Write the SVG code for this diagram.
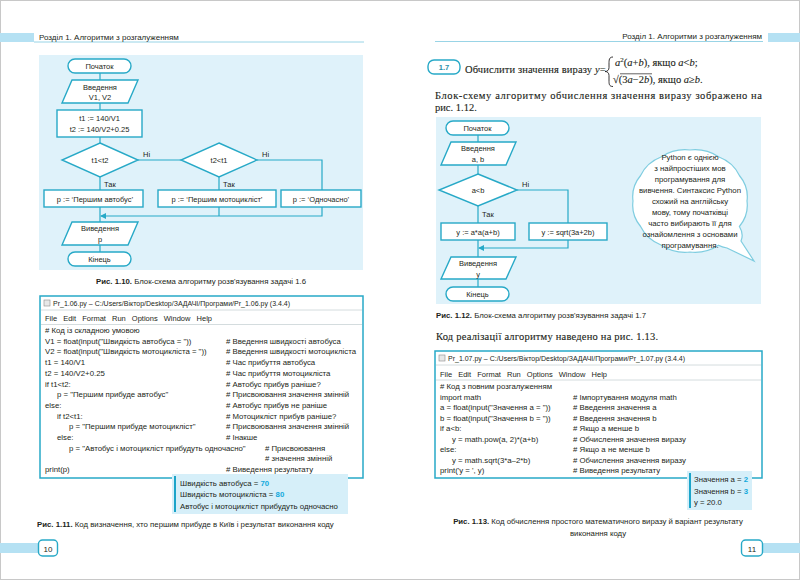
<svg xmlns="http://www.w3.org/2000/svg" width="800" height="582" viewBox="0 0 800 582">
<defs>
<style>
.t{font-family:"Liberation Sans",Arial,sans-serif;fill:#231f20}
.s{font-family:"Liberation Serif","Times New Roman",serif;fill:#231f20;stroke:#231f20;stroke-width:0.12}
.fc{font-size:7.5px;text-anchor:middle}
.lb{font-size:7.5px}
.cd{font-size:7.8px}
.cap{font-size:7.8px}
.b{font-weight:bold}
.sh{fill:#fff;stroke:#27a9c7;stroke-width:1.4}
.ln{fill:none;stroke:#27a9c7;stroke-width:1.2}
.bg{fill:#dff2fa}
.bar{fill:#b5e1f3}
.sep{stroke:#c9d3d6;stroke-width:0.8}
.win{fill:#fff;stroke:#27a9c7;stroke-width:1.5}
.out{fill:#d6eff9}
.obar{stroke:#1ba4c9;stroke-width:2}
.val{fill:#12a9dc;font-weight:bold}
.it{font-style:italic}
</style>
<marker id="ah" markerWidth="6" markerHeight="6" refX="5" refY="3" orient="auto" markerUnits="userSpaceOnUse">
<path d="M0,0 L6,3 L0,6 Z" fill="#27a9c7"/>
</marker>
</defs>
<rect x="0" y="0" width="800" height="582" fill="#fff"/>
<rect x="0.5" y="0.5" width="799" height="579" fill="none" stroke="#c8c8c8" stroke-width="1"/>

<!-- Headers -->
<g id="header-left">
<rect class="bar" x="0" y="33" width="34" height="9"/>
<line x1="34" y1="42" x2="364" y2="42" stroke="#7fc9e0" stroke-width="0.8"/>
<text class="t" x="39" y="40" font-size="8">Розділ 1. Алгоритми з розгалуженням</text>
</g>
<g id="header-right">
<rect class="bar" x="768" y="33" width="32" height="9"/>
<line x1="435" y1="41.5" x2="763" y2="41.5" stroke="#7fc9e0" stroke-width="0.8"/>
<text class="t" x="762" y="38.5" font-size="8" text-anchor="end">Розділ 1. Алгоритми з розгалуженням</text>
</g>

<!-- LEFT FLOWCHART -->
<rect class="bg" x="39" y="55" width="324" height="215"/>
<g id="connectors-left">
<path class="ln" d="M100,73 V80"/>
<path class="ln" d="M100,103 V110"/>
<path class="ln" d="M100,137 V143"/>
<path class="ln" d="M138,160 H181"/>
<path class="ln" d="M257,160 H322 V190"/>
<path class="ln" d="M100,177 V190"/>
<path class="ln" d="M219,177 V190"/>
<path class="ln" d="M219,207 V216"/>
<path class="ln" d="M322,207 V216 H101" marker-end="url(#ah)"/>
<path class="ln" d="M100,207 V222"/>
<path class="ln" d="M100,245 V252"/>
<text class="t lb" x="143" y="157">Ні</text>
<text class="t lb" x="262" y="157">Ні</text>
<text class="t lb" x="104" y="187">Так</text>
<text class="t lb" x="223" y="187">Так</text>
</g>
<g id="l-start"><rect class="sh" x="68" y="59" width="63" height="14" rx="7"/><text class="t fc" x="99.5" y="69">Початок</text></g>
<g id="l-input"><path class="sh" d="M72,80 H138 L128,103 H62 Z"/><text class="t fc" x="100" y="89.5">Введення</text><text class="t fc" x="100" y="100">V1, V2</text></g>
<g id="l-calc"><rect class="sh" x="57" y="110" width="85" height="27"/><text class="t fc" x="99.5" y="121">t1 := 140/V1</text><text class="t fc" x="99.5" y="132">t2 := 140/V2+0.25</text></g>
<g id="l-dec1"><path class="sh" d="M100,143 L138,160 L100,177 L62,160 Z"/><text class="t fc" x="100" y="163">t1&lt;t2</text></g>
<g id="l-dec2"><path class="sh" d="M219,143 L257,160 L219,177 L181,160 Z"/><text class="t fc" x="219" y="163">t2&lt;t1</text></g>
<g id="l-p1"><rect class="sh" x="44" y="190" width="99" height="17"/><text class="t fc" x="95" y="201.5">p := ‘Першим автобус’</text></g>
<g id="l-p2"><rect class="sh" x="158" y="190" width="118" height="17"/><text class="t fc" x="217" y="201.5">p := ‘Першим мотоцикліст’</text></g>
<g id="l-p3"><rect class="sh" x="281" y="190" width="80" height="17"/><text class="t fc" x="321" y="201.5">p := ‘Одночасно’</text></g>
<g id="l-output"><path class="sh" d="M72,222 H138 L128,245 H62 Z"/><text class="t fc" x="100" y="231">Виведення</text><text class="t fc" x="100" y="242">p</text></g>
<g id="l-end"><rect class="sh" x="68" y="252" width="63" height="14" rx="7"/><text class="t fc" x="99.5" y="262">Кінець</text></g>
<text class="t cap" x="201" y="284" text-anchor="middle"><tspan class="b">Рис. 1.10.</tspan> Блок-схема алгоритму розв'язування задачі 1.6</text>

<!-- LEFT CODE WINDOW -->
<g id="code-left">
<rect class="win" x="40" y="296" width="323" height="182"/>
<rect x="44" y="300" width="6" height="6" fill="#e8e8e8" stroke="#8a8a8a" stroke-width="0.6"/>
<text class="t" x="53" y="306" font-size="7">Pr_1.06.py – C:/Users/Віктор/Desktop/ЗАДАЧІ/Програми/Pr_1.06.py (3.4.4)</text>
<line class="sep" x1="41" y1="310" x2="362" y2="310"/>
<text class="t" x="45" y="321" font-size="7.5" word-spacing="4">File Edit Format Run Options Window Help</text>
<line class="sep" x1="41" y1="324.5" x2="362" y2="324.5"/>
<g class="t cd">
<text x="45" y="333"># Код із складною умовою</text>
<text x="45" y="343.7">V1 = float(input("Швидкість автобуса = "))</text>
<text x="45" y="354.4">V2 = float(input("Швидкість мотоцикліста = "))</text>
<text x="45" y="365.1">t1 = 140/V1</text>
<text x="45" y="375.8">t2 = 140/V2+0.25</text>
<text x="45" y="386.5">if t1&lt;t2:</text>
<text x="57" y="397.2">p = "Першим прибуде автобус"</text>
<text x="45" y="407.9">else:</text>
<text x="57" y="418.6">if t2&lt;t1:</text>
<text x="69" y="429.3">p = "Першим прибуде мотоцикліст"</text>
<text x="57" y="440">else:</text>
<text x="69" y="450.7">p = "Автобус і мотоцикліст прибудуть одночасно"</text>
<text x="45" y="471.8">print(p)</text>
<text x="226" y="343.7"># Введення швидкості автобуса</text>
<text x="226" y="354.4"># Введення швидкості мотоцикліста</text>
<text x="226" y="365.1"># Час прибуття автобуса</text>
<text x="226" y="375.8"># Час прибуття мотоцикліста</text>
<text x="226" y="386.5"># Автобус прибув раніше?</text>
<text x="226" y="397.2"># Присвоювання значення змінній</text>
<text x="226" y="407.9"># Автобус прибув не раніше</text>
<text x="226" y="418.6"># Мотоцикліст прибув раніше?</text>
<text x="226" y="429.3"># Присвоювання значення змінній</text>
<text x="226" y="440"># Інакше</text>
<text x="265" y="450.7"># Присвоювання</text>
<text x="265" y="461.2"># значення змінній</text>
<text x="226" y="471.8"># Виведення результату</text>
</g>
</g>
<g id="output-left">
<rect class="out" x="172" y="474" width="176" height="40"/>
<line class="obar" x1="175" y1="476" x2="175" y2="512"/>
<text class="t cd" x="180" y="485.5">Швидкість автобуса = <tspan class="val">70</tspan></text>
<text class="t cd" x="180" y="497">Швидкість мотоцикліста = <tspan class="val">80</tspan></text>
<text class="t cd" x="180" y="508.5">Автобус і мотоцикліст прибудуть одночасно</text>
</g>
<text class="t cap" x="37" y="527"><tspan class="b">Рис. 1.11.</tspan> Код визначення, хто першим прибуде в Київ і результат виконання коду</text>
<g id="page-left">
<rect class="bar" x="0" y="543" width="38" height="10"/>
<rect x="38.5" y="540" width="19" height="16" rx="4" fill="#fff" stroke="#27a9c7" stroke-width="1.4"/>
<text class="t" x="48" y="551.5" font-size="8" text-anchor="middle">10</text>
</g>

<!-- RIGHT PAGE -->
<g id="task">
<rect x="428" y="60" width="32" height="14" rx="6" fill="#fff" stroke="#27a9c7" stroke-width="1.4"/>
<text class="t b" x="444" y="70" font-size="7.5" text-anchor="middle" style="fill:#2a8fa8">1.7</text>
<text class="s" x="465" y="73" font-size="10.5" textLength="127" lengthAdjust="spacing">Обчислити значення виразу</text>
<text class="s" x="595" y="73" font-size="10.5"><tspan class="it">y</tspan>=</text>
<path d="M613,57 C609,57 609,60 609,64 L609,67.5 C609,70 607.5,71.5 605,71.5 C607.5,71.5 609,73 609,75.5 L609,80 C609,84 609,86.5 613,86.5" fill="none" stroke="#231f20" stroke-width="0.9"/>
<text class="s" x="615" y="66" font-size="10.5"><tspan class="it">a</tspan><tspan font-size="7" dy="-4">2</tspan><tspan dy="4">(</tspan><tspan class="it">a</tspan>+<tspan class="it">b</tspan>), якщо <tspan class="it">a</tspan>&lt;<tspan class="it">b</tspan>;</text>
<text class="s" x="613" y="83" font-size="10.5">√(3<tspan class="it">a</tspan>−2<tspan class="it">b</tspan>), якщо <tspan class="it">a</tspan>≥<tspan class="it">b</tspan>.</text>
<line x1="620" y1="73.8" x2="652" y2="73.8" stroke="#231f20" stroke-width="0.7"/>
</g>
<text class="s" x="435" y="99" font-size="10.5" textLength="327" lengthAdjust="spacing">Блок-схему алгоритму обчислення значення виразу зображено на</text>
<text class="s" x="435" y="111" font-size="10.5">рис. 1.12.</text>

<rect class="bg" x="436" y="117" width="325" height="187"/>
<g id="connectors-right">
<path class="ln" d="M478,135 V142"/>
<path class="ln" d="M478,165 V174"/>
<path class="ln" d="M517,190 H568 V223"/>
<path class="ln" d="M478,206 V223"/>
<path class="ln" d="M568,240 V248 H479" marker-end="url(#ah)"/>
<path class="ln" d="M478,240 V257"/>
<path class="ln" d="M478,279 V287"/>
<text class="t lb" x="522" y="187">Ні</text>
<text class="t lb" x="482" y="217">Так</text>
</g>
<g id="r-start"><rect class="sh" x="446" y="121" width="63" height="14" rx="7"/><text class="t fc" x="477.5" y="131">Початок</text></g>
<g id="r-input"><path class="sh" d="M451,142 H516 L506,165 H441 Z"/><text class="t fc" x="478" y="151">Введення</text><text class="t fc" x="478" y="162">a, b</text></g>
<g id="r-dec"><path class="sh" d="M478,174 L517,190 L478,206 L439,190 Z"/><text class="t fc" x="478" y="193">a&lt;b</text></g>
<g id="r-y1"><rect class="sh" x="441" y="223" width="74" height="17"/><text class="t fc" x="478" y="234.5">y := a*a(a+b)</text></g>
<g id="r-y2"><rect class="sh" x="529" y="223" width="78" height="17"/><text class="t fc" x="568" y="234.5">y := sqrt(3a+2b)</text></g>
<g id="r-output"><path class="sh" d="M451,257 H516 L506,279 H441 Z"/><text class="t fc" x="478" y="266">Виведення</text><text class="t fc" x="478" y="276.5">y</text></g>
<g id="r-end"><rect class="sh" x="446" y="287" width="63" height="14" rx="7"/><text class="t fc" x="477.5" y="297">Кінець</text></g>

<g id="bubble">
<path d="M747,201 Q748.9,215.1 739.4,226.5 Q744,234 741,241 L754,261 L727,248 Q722,247 718.5,245.2 Q705.8,253.7 690,252 Q674.2,253.7 661.5,245.2 Q646.9,239.6 640.6,226.5 Q631.1,215.1 633,201 Q631.1,186.9 640.6,175.5 Q646.9,162.4 661.5,156.8 Q674.2,148.3 690,150 Q705.8,148.3 718.5,156.8 Q733.1,162.4 739.4,175.5 Q748.9,186.9 747,201 Z" fill="#fff" stroke="#7fcde0" stroke-width="1.2"/>
<g class="t" font-size="7.8" text-anchor="middle">
<text x="690" y="160">Python є однією</text>
<text x="690" y="171">з найпростіших мов</text>
<text x="690" y="182">програмування для</text>
<text x="690" y="193">вивчення. Синтаксис Python</text>
<text x="690" y="204">схожий на англійську</text>
<text x="690" y="215">мову, тому початківці</text>
<text x="690" y="226">часто вибирають її для</text>
<text x="690" y="237">ознайомлення з основами</text>
<text x="690" y="248">програмування.</text>
</g>
</g>
<text class="t cap" x="436" y="318"><tspan class="b">Рис. 1.12.</tspan> Блок-схема алгоритму розв'язування задачі 1.7</text>
<text class="s" x="436" y="340" font-size="10.5" textLength="222" lengthAdjust="spacing">Код реалізації алгоритму наведено на рис. 1.13.</text>

<g id="code-right">
<rect class="win" x="435" y="351" width="327" height="127"/>
<rect x="439" y="355" width="6" height="6" fill="#e8e8e8" stroke="#8a8a8a" stroke-width="0.6"/>
<text class="t" x="448" y="361" font-size="7">Pr_1.07.py – C:/Users/Віктор/Desktop/ЗАДАЧІ/Програми/Pr_1.07.py (3.4.4)</text>
<line class="sep" x1="436" y1="365" x2="761" y2="365"/>
<text class="t" x="440" y="376.5" font-size="7.5" word-spacing="4">File Edit Format Run Options Window Help</text>
<line class="sep" x1="436" y1="380" x2="761" y2="380"/>
<g class="t cd">
<text x="440" y="389"># Код з повним розгалуженням</text>
<text x="440" y="399.5">import math</text>
<text x="440" y="410">a = float(input("Значення a = "))</text>
<text x="440" y="420.5">b = float(input("Значення b = "))</text>
<text x="440" y="431">if a&lt;b:</text>
<text x="452" y="441.5">y = math.pow(a, 2)*(a+b)</text>
<text x="440" y="452">else:</text>
<text x="452" y="462.5">y = math.sqrt(3*a–2*b)</text>
<text x="440" y="473">print('y = ', y)</text>
<text x="573" y="399.5"># Імпортування модуля math</text>
<text x="573" y="410"># Введення значення a</text>
<text x="573" y="420.5"># Введення значення b</text>
<text x="573" y="431"># Якщо a менше b</text>
<text x="573" y="441.5"># Обчислення значення виразу</text>
<text x="573" y="452"># Якщо a не менше b</text>
<text x="573" y="462.5"># Обчислення значення виразу</text>
<text x="573" y="473"># Виведення результату</text>
</g>
</g>
<g id="output-right">
<rect class="out" x="687" y="471" width="65" height="39"/>
<line class="obar" x1="690" y1="473" x2="690" y2="508"/>
<text class="t cd" x="694" y="482">Значення a = <tspan class="val">2</tspan></text>
<text class="t cd" x="694" y="493.5">Значення b = <tspan class="val">3</tspan></text>
<text class="t cd" x="694" y="505">y = 20.0</text>
</g>
<text class="t cap" x="598" y="524" text-anchor="middle"><tspan class="b">Рис. 1.13.</tspan> Код обчислення простого математичного виразу й варіант результату</text>
<text class="t cap" x="598" y="536" text-anchor="middle">виконання коду</text>
<g id="page-right">
<rect class="bar" x="762" y="543" width="38" height="10"/>
<rect x="741.5" y="540" width="21" height="16" rx="4" fill="#fff" stroke="#27a9c7" stroke-width="1.4"/>
<text class="t" x="752" y="551.5" font-size="8" text-anchor="middle">11</text>
</g>
</svg>
